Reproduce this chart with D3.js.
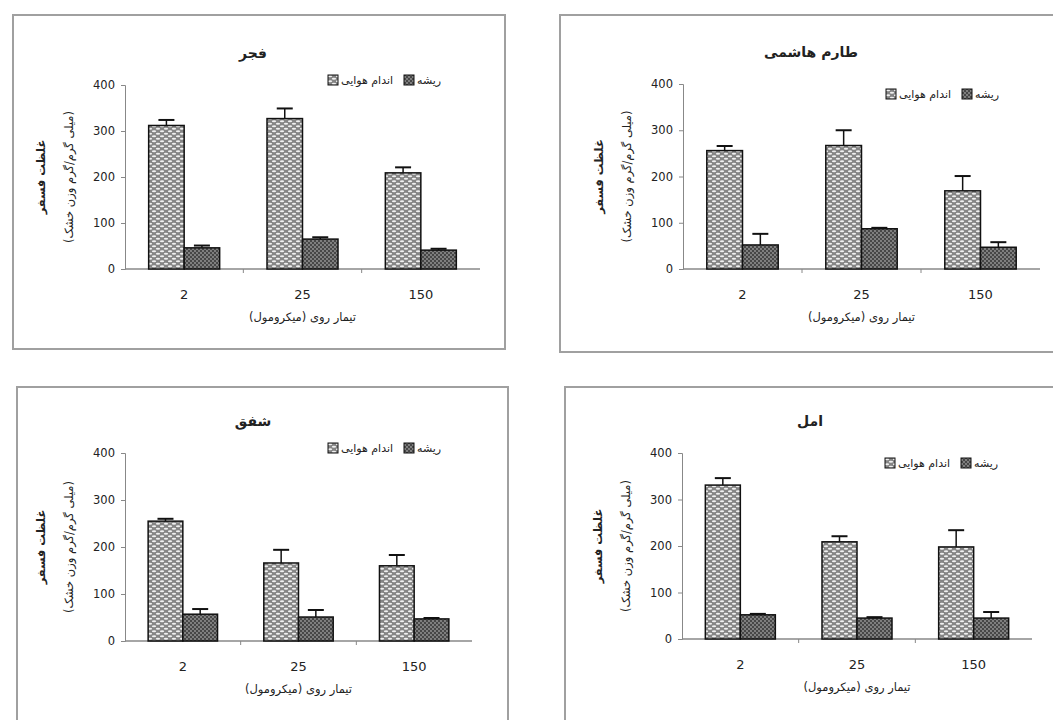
<!DOCTYPE html>
<html>
<head>
<meta charset="utf-8">
<script src="https://cdn.jsdelivr.net/npm/d3@7"></script>
<style>
 body { margin:0; background:#fff; }
 svg text { font-family: "DejaVu Sans", sans-serif; fill:#222; }
</style>
</head>
<body>
<div id="chart-area"></div>
<script>
// data
var doses = ["2", "25", "150"];
var cultivars = ["فجر", "طارم هاشمی", "شفق", "امل"];
var seriesNames = ["اندام هوایی", "ریشه"];
var yTicks = [0, 100, 200, 300, 400];

var shoot    = [[312, 327, 209], [256, 267, 169], [255, 166, 160], [331, 209, 198]];
var shootErr = [[12, 22, 12],    [10, 33, 32],    [5, 28, 23],     [15, 12, 36]];
var root     = [[46, 65, 41],    [52, 87, 47],    [57, 51, 47],    [52, 45, 45]];
var rootErr  = [[5, 4, 3],       [24, 2, 11],     [11, 15, 2],     [2, 2, 13]];

var yLabel1 = "غلظت فسفر";
var yLabel2 = "(میلی گرم/گرم وزن خشک)";
var xLabel = "تیمار روی (میکرومول)";

// panel layout: frame box and plot area
var panels = [
  {frame:[13, 15, 492, 334], x0:125, x1:480, yb:269, yt:85},
  {frame:[560, 15, 500, 337], x0:683, x1:1040, yb:269, yt:84},
  {frame:[17, 387, 491, 340], x0:125, x1:472, yb:641, yt:453},
  {frame:[565, 387, 495, 340], x0:682, x1:1032, yb:639, yt:453}
];

var svg = d3.select("#chart-area")
  .append("svg")
  .attr("width", 1053)
  .attr("height", 720);

// fill patterns
var defs = svg.append("defs");
var pl = defs.append("pattern").attr("id", "light")
  .attr("patternUnits", "userSpaceOnUse").attr("width", 8).attr("height", 5);
pl.append("rect").attr("width", 8).attr("height", 5).attr("fill", "#858585");
pl.append("ellipse").attr("cx", 2).attr("cy", 1.25).attr("rx", 2.2).attr("ry", 1).attr("fill", "#f0f0f0");
pl.append("ellipse").attr("cx", 6).attr("cy", 3.75).attr("rx", 2.2).attr("ry", 1).attr("fill", "#f0f0f0");

var pd = defs.append("pattern").attr("id", "dark")
  .attr("patternUnits", "userSpaceOnUse").attr("width", 4).attr("height", 4);
pd.append("rect").attr("width", 4).attr("height", 4).attr("fill", "#474747");
pd.append("circle").attr("cx", 1).attr("cy", 1).attr("r", 0.9).attr("fill", "#999");
pd.append("circle").attr("cx", 3).attr("cy", 3).attr("r", 0.9).attr("fill", "#999");

var fills = ["url(#light)", "url(#dark)"];

panels.forEach(function(p, i) {
  var g = svg.append("g");

  g.append("rect")
    .attr("x", p.frame[0]).attr("y", p.frame[1])
    .attr("width", p.frame[2]).attr("height", p.frame[3])
    .attr("fill", "#fff").attr("stroke", "#a0a0a0").attr("stroke-width", 2);

  var x = d3.scaleBand().domain(doses).range([p.x0, p.x1])
    .paddingInner(0.4).paddingOuter(0.2);
  var xs = d3.scaleBand().domain([0, 1]).range([0, x.bandwidth()]);
  var y = d3.scaleLinear().domain([0, 400]).range([p.yb, p.yt]);

  // y axis
  var yAxis = g.append("g")
    .attr("transform", "translate(" + p.x0 + ",0)")
    .call(d3.axisLeft(y).tickValues(yTicks).tickSize(4).tickPadding(6));
  yAxis.select(".domain").attr("stroke", "#888");
  yAxis.selectAll(".tick line").attr("stroke", "#888");
  yAxis.selectAll("text").attr("font-size", 11.5).attr("fill", "#333");

  // x axis, ticks between categories
  var step = x.step();
  var xAxis = g.append("g").attr("transform", "translate(0," + p.yb + ")");
  xAxis.append("line").attr("x1", p.x0).attr("x2", p.x1)
    .attr("stroke", "#888").attr("stroke-width", 1.5);
  xAxis.selectAll(".sep").data(doses.slice(1)).enter().append("line")
    .attr("x1", function(d) { return x(d) - step * 0.2; })
    .attr("x2", function(d) { return x(d) - step * 0.2; })
    .attr("y1", 0).attr("y2", 4).attr("stroke", "#888");
  xAxis.selectAll(".lab").data(doses).enter().append("text")
    .attr("x", function(d) { return x(d) + x.bandwidth() / 2; })
    .attr("y", 30).attr("text-anchor", "middle").attr("font-size", 13)
    .text(function(d) { return d; });

  // bars
  var sets = [
    {vals: shoot[i], errs: shootErr[i]},
    {vals: root[i], errs: rootErr[i]}
  ];
  sets.forEach(function(s, k) {
    var bw = xs.bandwidth();
    g.selectAll(".bar" + k).data(doses).enter().append("rect")
      .attr("x", function(d) { return x(d) + xs(k); })
      .attr("y", function(d, j) { return y(s.vals[j]); })
      .attr("width", bw)
      .attr("height", function(d, j) { return y(0) - y(s.vals[j]); })
      .attr("fill", fills[k]).attr("stroke", "#111").attr("stroke-width", 1.5);
    // upward error bars
    g.selectAll(".err" + k).data(doses).enter().append("line")
      .attr("x1", function(d) { return x(d) + xs(k) + bw / 2; })
      .attr("x2", function(d) { return x(d) + xs(k) + bw / 2; })
      .attr("y1", function(d, j) { return y(s.vals[j]); })
      .attr("y2", function(d, j) { return y(s.vals[j] + s.errs[j]); })
      .attr("stroke", "#111").attr("stroke-width", 1.5);
    g.selectAll(".cap" + k).data(doses).enter().append("line")
      .attr("x1", function(d) { return x(d) + xs(k) + bw / 2 - 8; })
      .attr("x2", function(d) { return x(d) + xs(k) + bw / 2 + 8; })
      .attr("y1", function(d, j) { return y(s.vals[j] + s.errs[j]); })
      .attr("y2", function(d, j) { return y(s.vals[j] + s.errs[j]); })
      .attr("stroke", "#111").attr("stroke-width", 2);
  });

  // title
  g.append("text")
    .attr("x", p.x0 + 128).attr("y", p.yt - 27)
    .attr("text-anchor", "middle").attr("font-size", 14).attr("font-weight", "bold")
    .text(cultivars[i]);

  // legend
  var ly = (i % 2 === 0) ? p.yt - 5 : p.yt + 10;
  var lx = p.x0 + 203;
  var lg = g.append("g").attr("transform", "translate(" + lx + "," + ly + ")");
  lg.append("rect").attr("x", 0).attr("y", -5).attr("width", 10).attr("height", 10)
    .attr("fill", fills[0]).attr("stroke", "#111");
  lg.append("text").attr("x", 13).attr("y", 4).attr("font-size", 11)
    .text(seriesNames[0]);
  lg.append("rect").attr("x", 76).attr("y", -5).attr("width", 10).attr("height", 10)
    .attr("fill", fills[1]).attr("stroke", "#111");
  lg.append("text").attr("x", 89).attr("y", 4).attr("font-size", 11)
    .text(seriesNames[1]);

  // axis labels
  var cy = (p.yb + p.yt) / 2;
  g.append("text")
    .attr("transform", "translate(" + (p.x0 - 80) + "," + cy + ") rotate(-90)")
    .attr("text-anchor", "middle").attr("font-size", 11.5).attr("font-weight", "bold")
    .text(yLabel1);
  g.append("text")
    .attr("transform", "translate(" + (p.x0 - 52) + "," + cy + ") rotate(-90)")
    .attr("text-anchor", "middle").attr("font-size", 11.5)
    .text(yLabel2);
  g.append("text")
    .attr("x", (p.x0 + p.x1) / 2).attr("y", p.yb + 52)
    .attr("text-anchor", "middle").attr("font-size", 11.5)
    .text(xLabel);
});
</script>
</body>
</html>
